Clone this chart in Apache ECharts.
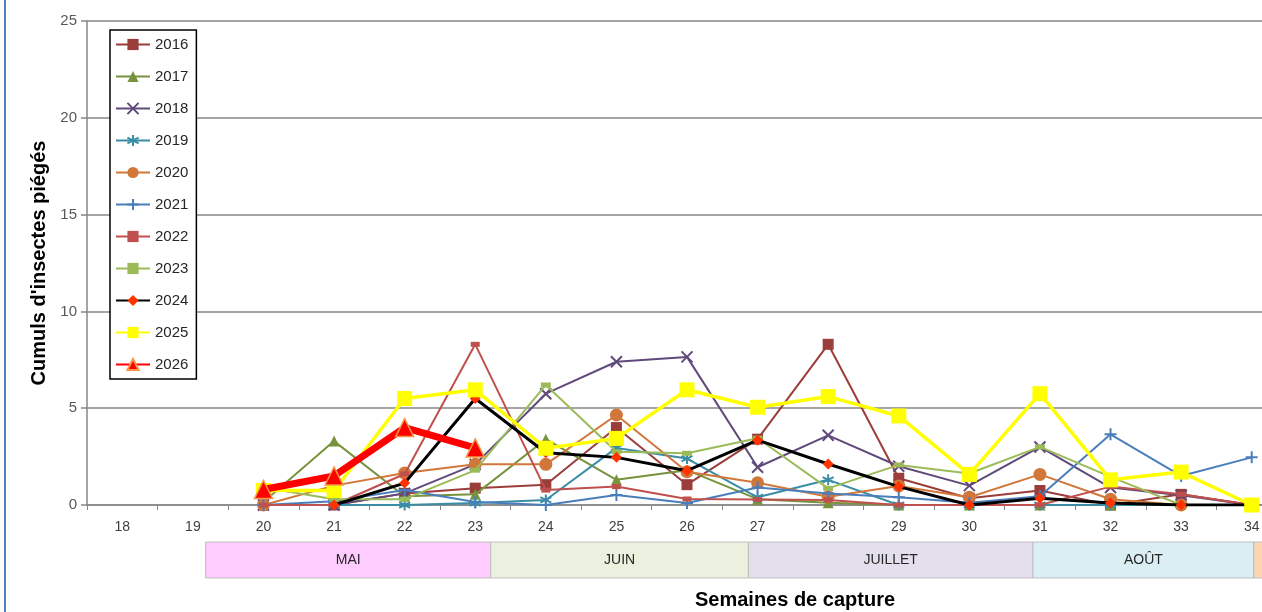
<!DOCTYPE html>
<html>
<head>
<meta charset="utf-8">
<script src="https://cdn.jsdelivr.net/npm/echarts@6/dist/echarts.min.js"></script>
<style>
html,body{margin:0;padding:0;background:#fff;}
#chart{width:1262px;height:612px;}
</style>
</head>
<body>
<div id="chart"></div>
<script>
// ---- data ----
const weeks = ['18','19','20','21','22','23','24','25','26','27','28','29','30','31','32','33','34'];
const years = ['2016','2017','2018','2019','2020','2021','2022','2023','2024','2025','2026'];
const y2016 = [null,null,0,0,0.6,0.87,1.05,4.0,1.05,3.4,8.3,1.38,0.35,0.75,0,0.55,0];
const y2017 = [null,null,0.15,3.3,0.45,0.55,3.4,1.3,1.8,0.3,0.12,0,0,0,0,null,null];
const y2018 = [null,null,0,0,0.6,2.1,5.75,7.4,7.65,1.95,3.6,2.0,1.0,3.0,0.9,0.5,0];
const y2019 = [null,null,0,0,0,0.1,0.26,2.95,2.4,0.4,1.3,0,0,0,0,0,0];
const y2020 = [null,null,0,1.0,1.65,2.1,2.1,4.65,1.72,1.15,0.43,0.98,0.4,1.58,0.3,0,0];
const y2021 = [null,null,0,0.2,0.77,0.15,0,0.52,0.1,0.9,0.6,0.4,0.12,0.45,3.65,1.5,2.46];
const y2022 = [null,null,0,0,1.6,8.3,0.77,0.95,0.31,0.28,0.26,0,0,0,0.95,0.55,0];
const y2023 = [null,null,0.9,0.3,0.3,1.8,6.2,2.75,2.67,3.45,0.86,2.07,1.63,3.0,1.45,0,null];
const y2024 = [null,null,null,0,1.13,5.5,2.7,2.46,1.77,3.35,2.12,0.95,0,0.35,0.1,0,0];
const y2025 = [null,null,0.75,0.75,5.5,5.95,2.93,3.44,5.95,5.05,5.6,4.6,1.58,5.75,1.3,1.7,0];
const y2026 = [null,null,0.8,1.5,4.0,2.95,null,null,null,null,null,null,null,null,null,null,null];
const yTicks = [0,5,10,15,20,25];
// months: label and start/end in week units
const monthNames = ['MAI','JUIN','JUILLET','AOÛT',''];
const monthBounds = [19.18, 23.22, 26.87, 30.9, 34.03, 34.6];
const yTitle = "Cumuls d'insectes piégés";
const xTitle = 'Semaines de capture';

// ---- styles ----
const GRAY = '#878787';
const pathX = 'path://M0,0L10,10M10,0L0,10';
const pathStar = 'path://M5,0L5,10M0.7,2.5L9.3,7.5M0.7,7.5L9.3,2.5';
const pathPlus = 'path://M5,0L5,10M0,5L10,5';

const styles = [
  {data:y2016, color:'#9B3D3A', w:2, symbol:'rect', size:11},
  {data:y2017, color:'#77933C', w:2, symbol:'triangle', size:11},
  {data:y2018, color:'#604A7B', w:2, symbol:pathX, size:11, stroke:true},
  {data:y2019, color:'#3A8DA5', w:2, symbol:pathStar, size:11, stroke:true},
  {data:y2020, color:'#D2773A', w:2, symbol:'circle', size:13},
  {data:y2021, color:'#4A7EBB', w:2, symbol:pathPlus, size:12, stroke:true},
  {data:y2022, color:'#C0504D', w:2, symbol:'rect', size:[9,5]},
  {data:y2023, color:'#9BBB59', w:2, symbol:'rect', size:[10,5]},
  {data:y2024, color:'#000000', w:3, symbol:'diamond', size:11, mcolor:'#FF3300'},
  {data:y2025, color:'#FFFF00', w:3.5, symbol:'rect', size:15},
  {data:y2026, color:'#FF0000', w:7, symbol:'triangle', size:18, border:'#F79646'}
];

const series = styles.map((s, i) => {
  const item = {color: s.mcolor || s.color};
  if (s.stroke) { item.borderColor = s.color; item.borderWidth = 2; }
  if (s.border) { item.borderColor = s.border; item.borderWidth = 1.5; }
  return {
    name: years[i],
    type: 'line',
    data: s.data,
    symbol: s.symbol,
    symbolSize: s.size,
    showAllSymbol: true,
    connectNulls: false,
    z: 2 + i,
    lineStyle: {color: s.color, width: s.w},
    itemStyle: item,
    emphasis: {disabled: true},
    animation: false
  };
});

const chart = echarts.init(document.getElementById('chart'), null, {renderer:'canvas'});
chart.setOption({
  animation: false,
  backgroundColor: '#ffffff',
  grid: {left: 87, right: -25, top: 21, bottom: 107, containLabel: false, outerBoundsMode: 'none'},
  legend: {
    orient: 'vertical',
    left: 110, top: 30,
    data: years,
    itemWidth: 34, itemHeight: 14, itemGap: 17,
    padding: [7, 8, 7, 5],
    borderColor: '#000', borderWidth: 1.5,
    backgroundColor: '#fff',
    textStyle: {fontFamily: 'Liberation Sans, Arial, sans-serif', fontSize: 15, color: '#262626'},
    selectedMode: false
  },
  xAxis: {
    type: 'category',
    data: weeks,
    boundaryGap: true,
    axisLine: {lineStyle: {color: GRAY, width: 1.5}},
    axisTick: {show: true, length: 5, lineStyle: {color: GRAY, width: 1}},
    axisLabel: {fontFamily: 'Liberation Sans Narrow, Liberation Sans, Arial, sans-serif', fontSize: 14, color: '#404040', margin: 15},
    splitLine: {show: false}
  },
  yAxis: {
    type: 'value',
    min: yTicks[0], max: yTicks[yTicks.length-1], interval: 5,
    name: yTitle,
    nameLocation: 'middle',
    nameGap: 38,
    nameTextStyle: {fontFamily: 'Liberation Sans, Arial, sans-serif', fontSize: 20, fontWeight: 'bold', color: '#000'},
    axisLine: {show: true, lineStyle: {color: GRAY, width: 1.5}},
    axisTick: {show: true, length: 6, lineStyle: {color: GRAY, width: 1.5}},
    axisLabel: {fontFamily: 'Liberation Sans, Arial, sans-serif', fontSize: 15, color: '#595959', margin: 10},
    splitLine: {show: true, lineStyle: {color: GRAY, width: 1.5}}
  },
  series: series
});

// ---- month band and titles ----
const p0 = chart.convertToPixel({xAxisIndex: 0}, weeks[0]);
const p1 = chart.convertToPixel({xAxisIndex: 0}, weeks[1]);
const step = p1 - p0;
const wx = w => p0 + (w - Number(weeks[0])) * step;
const monthColors = ['#FFCCFF', '#EBF1DE', '#E4DFEC', '#DAEEF3', '#FCD5B4'];
const graphics = [];
for (let i = 0; i < monthNames.length; i++) {
  const x0 = wx(monthBounds[i]), x1 = wx(monthBounds[i+1]);
  graphics.push({
    type: 'rect', silent: true,
    shape: {x: x0, y: 542, width: x1 - x0, height: 36},
    style: {fill: monthColors[i], stroke: '#BFBFBF', lineWidth: 1}
  });
  if (monthNames[i]) {
    graphics.push({
      type: 'text', silent: true,
      x: (x0 + x1) / 2, y: 560,
      style: {text: monthNames[i], fill: '#262626', font: '14px "Liberation Sans Narrow", "Liberation Sans", Arial, sans-serif', align: 'center', verticalAlign: 'middle'}
    });
  }
}
graphics.push({
  type: 'text', silent: true, x: 795, y: 600,
  style: {text: xTitle, fill: '#000', font: 'bold 20px "Liberation Sans", Arial, sans-serif', align: 'center', verticalAlign: 'middle'}
});
graphics.push({
  type: 'line', silent: true,
  shape: {x1: 5, y1: 0, x2: 5, y2: 612},
  style: {stroke: '#4F81BD', lineWidth: 2}
});
chart.setOption({graphic: graphics});
</script>
</body>
</html>
